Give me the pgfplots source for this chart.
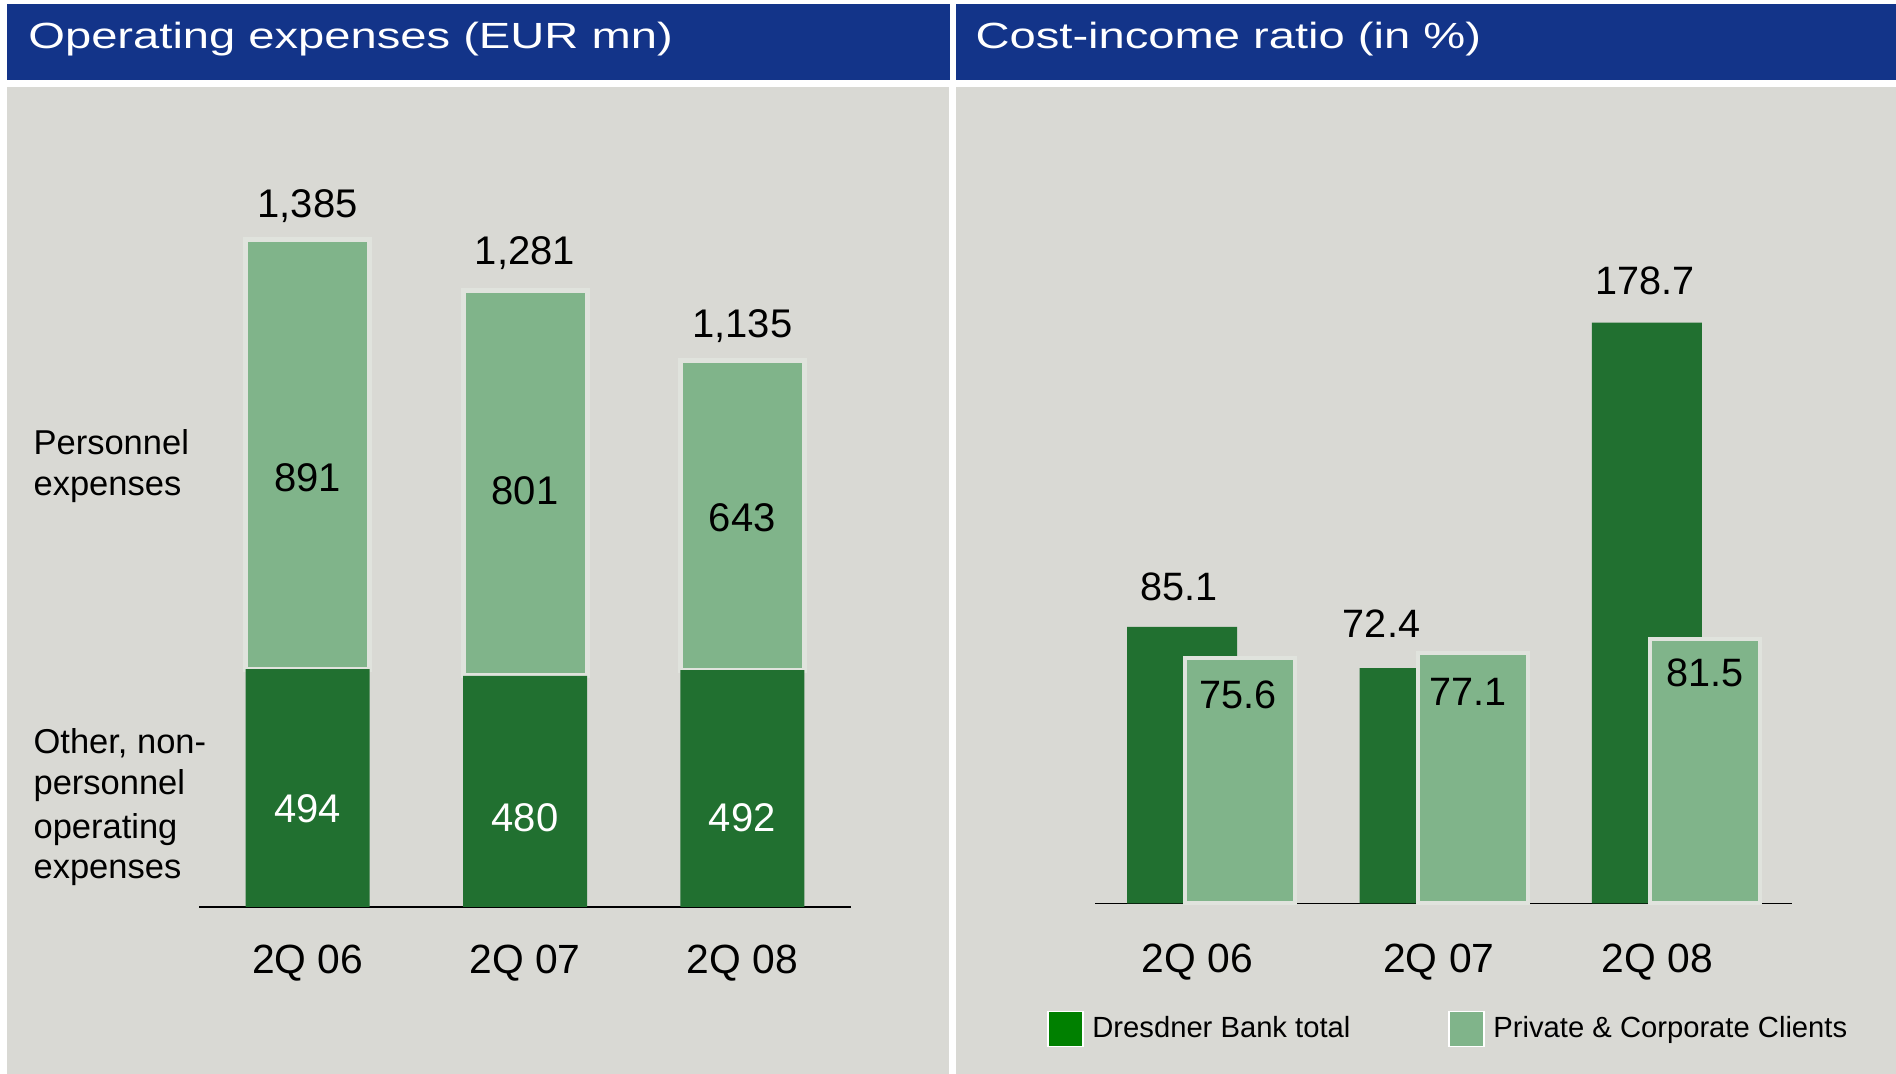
\documentclass[border=0pt]{standalone}
\usepackage{fontspec}
\setmainfont{Liberation Sans}
\usepackage{graphicx}
\usepackage{pgfplots}
\pgfplotsset{compat=1.18}
\usepackage{pgfplotstable}

\definecolor{bg}{RGB}{217,217,212}
\definecolor{titleblue}{RGB}{19,52,137}
\definecolor{darkg}{RGB}{33,112,48}
\definecolor{lightg}{RGB}{128,180,138}
\definecolor{legdark}{RGB}{0,128,0}
\definecolor{gapc}{RGB}{224,227,221}

% Operating expenses (EUR mn); cap = invisible 1-unit cap carrying the total label
\pgfplotstableread{
x other pers cap total dyo dyp dyt
0 494 891 1 1385 -10.3 -11.55 18.0
1 480 801 1 1281 -13.3 -4.0 19.8
2 492 643 1 1135 -14.75 -1.15 18.2
}\opex

% Cost-income ratio (in %)
\pgfplotstableread{
x total pcc dxd dyd dxl dyl
0 85.1 75.6 -1.7 19.9 -1.2 -18.2
1 72.4 77.1 -16.5 22.2 -2.2 -19.5
2 178.7 81.5 -0.7 20.8 0 -17.0
}\cir

\begin{document}
\begin{tikzpicture}[x=1pt,y=1pt]
\fill[white] (0,0) rectangle (948,537);
\fill[titleblue] (3.5,496.75) rectangle (475,535);
\fill[titleblue] (478,496.75) rectangle (948,535);
\fill[bg] (3.5,0) rectangle (474.5,493.5);
\fill[bg] (478,0) rectangle (948,493.5);

\node[anchor=base west, inner sep=0pt, text=white] at (14,512.6)
  {\scalebox{1.295}[1]{\fontsize{18.2}{20}\selectfont Operating expenses (EUR mn)}};
\node[anchor=base west, inner sep=0pt, text=white] at (487.6,512.6)
  {\scalebox{1.295}[1]{\fontsize{18.2}{20}\selectfont Cost-income ratio (in \%)}};

\begin{scope}[every node/.style={anchor=base west, inner sep=0pt, font=\fontsize{17.25}{20}\selectfont}]
\node at (16.6,309.5) {Personnel};
\node at (16.6,289) {expenses};
\node at (16.6,160.35) {Other, non-};
\node at (16.6,139.5) {personnel};
\node at (16.6,117.85) {operating};
\node at (16.6,97.85) {expenses};
\end{scope}

% ---------------- left chart ----------------
\begin{axis}[
  at={(99.5pt,83.5pt)}, anchor=south west,
  scale only axis, width=326pt, height=361.2pt,
  xmin=-0.5, xmax=2.5, ymin=0, ymax=1500,
  axis x line*=bottom, axis y line=none,
  x axis line style={-, black, line width=0.6pt},
  xtick=data, xticklabels={2Q 06,2Q 07,2Q 08},
  major tick length=0pt, ytick=\empty,
  xticklabel style={anchor=center, inner sep=0pt, text depth=0pt, yshift=-25.9pt,
    font=\fontsize{20.4}{24}\selectfont},
  ybar stacked, bar width=62pt,
  /pgf/number format/assume math mode=true,
  clip=false,
]
\addplot[fill=darkg, draw=none,
  nodes near coords, point meta=explicit,
  visualization depends on={\thisrow{dyo} \as \myd},
  every node near coord/.append style={anchor=center, inner sep=0pt, text depth=0pt,
     text=white, font=\fontsize{20}{24}\selectfont, yshift=\myd pt}]
  table[x=x, y=other, meta=other] {\opex};
\addplot[fill=lightg, draw=gapc, line width=2.5pt,
  nodes near coords, point meta=explicit,
  visualization depends on={\thisrow{dyp} \as \myd},
  every node near coord/.append style={anchor=center, inner sep=0pt, text depth=0pt,
     text=black, font=\fontsize{20}{24}\selectfont, yshift=\myd pt}]
  table[x=x, y=pers, meta=pers] {\opex};
\addplot[draw=none, fill=none,
  nodes near coords, point meta=explicit,
  visualization depends on={\thisrow{dyt} \as \myd},
  every node near coord/.append style={anchor=center, inner sep=0pt, text depth=0pt,
     text=black, font=\fontsize{20}{24}\selectfont, yshift=\myd pt}]
  table[x=x, y=cap, meta=total] {\opex};
\end{axis}

% ---------------- right chart ----------------
\begin{axis}[
  at={(547.5pt,85.25pt)}, anchor=south west,
  scale only axis, width=348.5pt, height=325pt,
  xmin=-0.5, xmax=2.5, ymin=0, ymax=200,
  axis x line*=bottom, axis y line=none,
  x axis line style={-, black, line width=0.6pt},
  xtick={-0.06,0.98,1.92}, xticklabels={2Q 06,2Q 07,2Q 08},
  major tick length=0pt, ytick=\empty,
  xticklabel style={anchor=center, inner sep=0pt, text depth=0pt, yshift=-27.5pt,
    font=\fontsize{20.4}{24}\selectfont},
  ybar, bar width=55pt,
  /pgf/number format/assume math mode=true,
  clip=false,
  legend columns=2,
  legend style={at={(-0.0689,-0.1925)}, anchor=west, draw=none, fill=none,
    inner sep=0pt, font=\fontsize{14.6}{17}\selectfont,
    /tikz/every even column/.append style={column sep=47pt}},
]
\addplot[fill=darkg, draw=none, bar shift=-14.5pt,
  nodes near coords, point meta=explicit,
  visualization depends on={\thisrow{dxd} \as \mdx},
  visualization depends on={\thisrow{dyd} \as \mdy},
  every node near coord/.append style={anchor=center, inner sep=0pt, text depth=0pt,
     text=black, font=\fontsize{19.8}{24}\selectfont, xshift=\mdx pt, yshift=\mdy pt},
  legend image code/.code={\draw[fill=legdark, draw=white, line width=0.6pt] (0pt,-8.75pt) rectangle (17.5pt,8.75pt);}]
  table[x=x, y=total, meta=total] {\cir};
\addlegendentry{\hspace{2.4pt}Dresdner Bank total}
\addplot[fill=lightg, draw=gapc, line width=2pt, bar shift=14.5pt,
  nodes near coords, point meta=explicit,
  visualization depends on={\thisrow{dxl} \as \mdx},
  visualization depends on={\thisrow{dyl} \as \mdy},
  every node near coord/.append style={anchor=center, inner sep=0pt, text depth=0pt,
     text=black, font=\fontsize{19.8}{24}\selectfont, xshift=\mdx pt, yshift=\mdy pt},
  legend image code/.code={\draw[fill=lightg, draw=white, line width=0.6pt] (0pt,-8.75pt) rectangle (17.5pt,8.75pt);}]
  table[x=x, y=pcc, meta=pcc] {\cir};
\addlegendentry{\hspace{2.4pt}Private \& Corporate Clients}
\end{axis}
\end{tikzpicture}
\end{document}
